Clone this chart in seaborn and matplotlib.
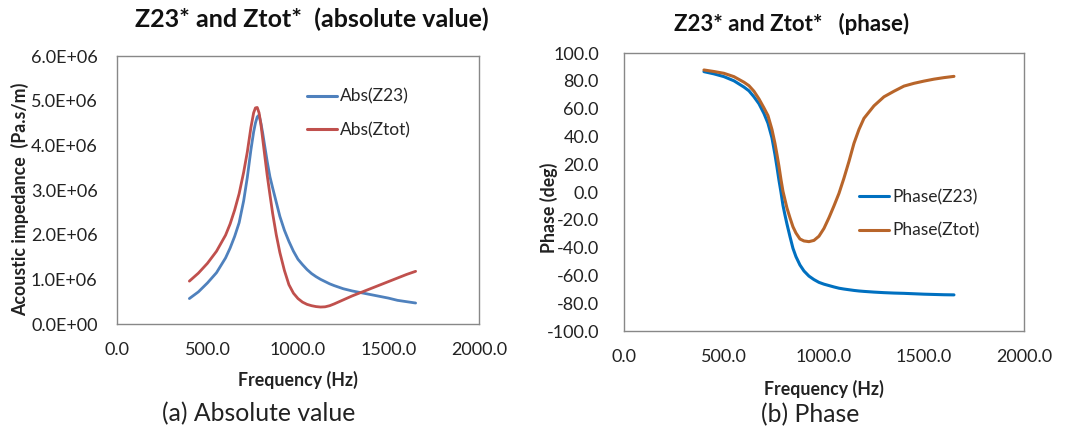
import numpy as np
import pandas as pd
import matplotlib
matplotlib.use("Agg")
import matplotlib.pyplot as plt
import seaborn as sns

# ---------------- data ----------------
freq = [400, 450, 500, 550, 600, 625, 650, 675, 700, 720, 740, 755, 765, 775, 785,
        795, 805, 815, 830, 845, 860, 880, 900, 925, 950, 975, 1000, 1025, 1050,
        1075, 1100, 1125, 1150, 1175, 1200, 1250, 1300, 1350, 1400, 1450, 1500,
        1550, 1600, 1650]

# absolute values in units of 1e6 Pa.s/m
abs_z23 = [0.57, 0.72, 0.92, 1.15, 1.48, 1.70, 1.96, 2.27, 2.76, 3.28, 3.90, 4.30,
           4.50, 4.64, 4.68, 4.50, 4.28, 4.02, 3.64, 3.30, 3.05, 2.73, 2.41, 2.10,
           1.85, 1.63, 1.45, 1.33, 1.22, 1.13, 1.06, 1.00, 0.95, 0.90, 0.86, 0.79,
           0.74, 0.70, 0.66, 0.62, 0.58, 0.53, 0.50, 0.47]
abs_ztot = [0.96, 1.14, 1.36, 1.63, 1.99, 2.24, 2.55, 2.92, 3.40, 3.85, 4.40, 4.73,
            4.84, 4.85, 4.73, 4.48, 4.15, 3.82, 3.33, 2.90, 2.48, 2.00, 1.60, 1.20,
            0.88, 0.69, 0.57, 0.49, 0.44, 0.41, 0.39, 0.38, 0.385, 0.41, 0.45, 0.54,
            0.63, 0.71, 0.79, 0.87, 0.95, 1.03, 1.11, 1.18]
abs_z23 = [v * 1e6 for v in abs_z23]
abs_ztot = [v * 1e6 for v in abs_ztot]

phase_z23 = [86.6, 85.0, 83.0, 80.0, 75.5, 72.8, 68.5, 63.5, 56.5, 49.5, 39.0, 27.0,
             18.0, 8.5, 0.0, -9.5, -16.5, -23.0, -32.0, -40.5, -46.5, -52.5, -56.8,
             -60.5, -63.0, -65.0, -66.3, -67.3, -68.3, -69.2, -69.8, -70.3, -70.8,
             -71.2, -71.5, -72.0, -72.4, -72.7, -72.9, -73.2, -73.5, -73.7, -73.9,
             -74.0]
phase_ztot = [87.8, 86.7, 85.4, 83.0, 79.0, 76.5, 72.5, 67.0, 60.5, 55.0, 45.0, 35.0,
              27.0, 18.5, 9.0, 0.5, -5.5, -11.5, -18.5, -25.0, -29.5, -33.8, -35.2,
              -35.7, -34.8, -31.8, -26.2, -18.5, -10.0, -1.0, 10.0, 22.0, 35.0, 45.0,
              53.0, 62.0, 68.5, 72.5, 76.2, 78.2, 79.8, 81.2, 82.3, 83.2]

x_ticks = [0, 500, 1000, 1500, 2000]
y_ticks_abs = [0, 1e6, 2e6, 3e6, 4e6, 5e6, 6e6]
y_ticks_ph = list(range(-100, 101, 20))

labels_abs = ["Abs(Z23)", "Abs(Ztot)"]
labels_ph = ["Phase(Z23)", "Phase(Ztot)"]

# ---------------- style ----------------
sns.set_theme(style="white")
plt.rcParams['font.family'] = ['Lato', 'DejaVu Sans']

df_abs = pd.DataFrame({
    "Frequency": freq * 2,
    "value": abs_z23 + abs_ztot,
    "series": [labels_abs[0]] * len(freq) + [labels_abs[1]] * len(freq),
})
df_ph = pd.DataFrame({
    "Frequency": freq * 2,
    "value": phase_z23 + phase_ztot,
    "series": [labels_ph[0]] * len(freq) + [labels_ph[1]] * len(freq),
})

fig = plt.figure(figsize=(10.73, 4.30), dpi=100)
ax1 = fig.add_axes([0.109, 0.2465, 0.3374, 0.623])
ax2 = fig.add_axes([0.5815, 0.2302, 0.3728, 0.6465])

pal_abs = {labels_abs[0]: "#4F81BD", labels_abs[1]: "#C0504D"}
pal_ph = {labels_ph[0]: "#0070C0", labels_ph[1]: "#B8652A"}

sns.lineplot(data=df_abs, x="Frequency", y="value", hue="series", palette=pal_abs,
             ax=ax1, linewidth=2.0, legend=False)
sns.lineplot(data=df_ph, x="Frequency", y="value", hue="series", palette=pal_ph,
             ax=ax2, linewidth=2.2, legend=False)
for ax in (ax1, ax2):
    for ln in ax.get_lines():
        ln.set_solid_joinstyle("round")
        ln.set_solid_capstyle("round")

spine_c = "#888888"
tick_fs = 13
for ax in (ax1, ax2):
    ax.set_xlim(0, 2000)
    ax.set_xticks(x_ticks)
    ax.set_xticklabels([f"{t:.1f}" for t in x_ticks])
    for s in ax.spines.values():
        s.set_color(spine_c)
        s.set_linewidth(1.0)
    ax.tick_params(axis="both", direction="in", length=4, width=0.8, color=spine_c,
                   labelsize=tick_fs, labelcolor="#222222")
    ax.tick_params(axis="x", pad=13)

ax1.set_ylim(0, 6e6)
ax1.set_yticks(y_ticks_abs)
ax1.set_yticklabels([f"{t/1e6:.1f}E+06" if t > 0 else "0.0E+00" for t in y_ticks_abs])
ax1.tick_params(axis="y", pad=14)

ax2.set_ylim(-100, 100)
ax2.set_yticks(y_ticks_ph)
ax2.set_yticklabels([f"{t:.1f}" for t in y_ticks_ph])
ax2.tick_params(axis="y", pad=18, left=False)

lab_fs = 12.8
ax1.set_xlabel("Frequency (Hz)", fontsize=lab_fs, fontweight="bold", color="#222222")
ax1.set_ylabel("Acoustic impedance  (Pa.s/m)", fontsize=lab_fs, fontweight="bold", color="#222222")
ax2.set_xlabel("Frequency (Hz)", fontsize=lab_fs, fontweight="bold", color="#222222")
ax2.set_ylabel("Phase (deg)", fontsize=lab_fs, fontweight="bold", color="#222222")
ax1.xaxis.set_label_coords(0.5, -0.175)
ax1.yaxis.set_label_coords(-0.243, 0.466)
ax2.xaxis.set_label_coords(0.5, -0.176)
ax2.yaxis.set_label_coords(-0.165, 0.444)

# legends
for ax, labels, pal, anchor in ((ax1, labels_abs, pal_abs, (0.505, 0.905)),
                                (ax2, labels_ph, pal_ph, (0.57, 0.535))):
    handles = [plt.Line2D([], [], color=pal[l], linewidth=2.2) for l in labels]
    ax.legend(handles, labels, loc="upper left", bbox_to_anchor=anchor, frameon=False,
              fontsize=12.5, handlelength=1.75, handletextpad=0.15, labelspacing=1.0,
              borderaxespad=0)

fig.text(0.291, 0.956, "Z23* and Ztot*  (absolute value)", ha="center", va="center",
         fontsize=18, fontweight="bold", color="#111111")
fig.text(0.738, 0.944, "Z23* and Ztot*   (phase)", ha="center", va="center",
         fontsize=16, fontweight="bold", color="#111111")
fig.text(0.241, 0.037, "(a) Absolute value", ha="center", va="center",
         fontsize=17.8, color="#222222")
fig.text(0.755, 0.035, "(b) Phase", ha="center", va="center",
         fontsize=17.8, color="#222222")

fig.savefig("out.png", dpi=100, facecolor="white")
